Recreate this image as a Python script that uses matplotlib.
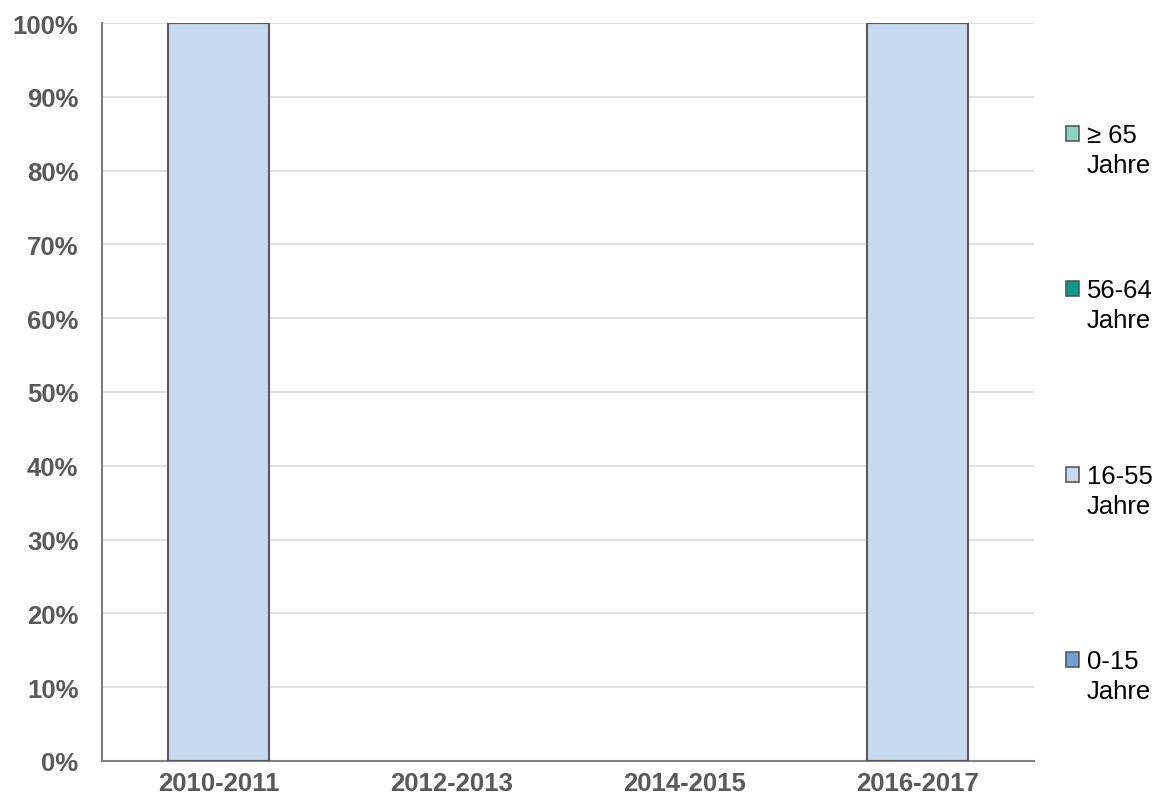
import numpy as np
import matplotlib.pyplot as plt
from matplotlib.patches import Patch, Rectangle
from matplotlib.legend_handler import HandlerPatch

plt.rcParams['font.family'] = ['Liberation Sans', 'DejaVu Sans']

# ---------- Data ----------
periods   = ["2010-2011", "2012-2013", "2014-2015", "2016-2017"]
age_0_15  = [0, 0, 0, 0]
age_16_55 = [100, 0, 0, 100]
age_56_64 = [0, 0, 0, 0]
age_65    = [0, 0, 0, 0]

series = [
    ("0-15\nJahre",  age_0_15,  "#6F9FD4"),
    ("16-55\nJahre", age_16_55, "#C6DAEF"),
    ("56-64\nJahre", age_56_64, "#009B8D"),
    ("\u2265 65\nJahre", age_65, "#8CD3C3"),
]

# legend entry centres (pixels from top), same order as series
legend_y = [677, 492, 306, 151]

FS = 18.5

# ---------- Plot ----------
fig = plt.figure(figsize=(11.63, 8.04), dpi=100)
ax = fig.add_axes([102 / 1163, 1 - 762 / 804, (1034 - 102) / 1163, (762 - 24) / 804])

x = np.arange(len(periods))
bottom = np.zeros(len(periods))
edge = "#595959"
handles = []
for label, vals, color in series:
    v = np.array(vals, dtype=float)
    shown = np.where(v > 0, v, np.nan)
    ax.bar(x, shown, bottom=bottom, width=0.435, color=color,
           edgecolor=edge, linewidth=1.5, zorder=3)
    bottom += v
    handles.append(Patch(facecolor=color, edgecolor=edge, linewidth=1.2, label=label))

ax.set_xlim(-0.5, len(periods) - 0.5)
ax.set_ylim(0, 100)
ax.set_yticks(np.arange(0, 101, 10))
ax.set_yticklabels([f"{t}%" for t in range(0, 101, 10)])
ax.set_xticks(x)
ax.set_xticklabels(periods)
ax.tick_params(length=0, labelsize=FS, colors="#595959")
for lab in ax.get_xticklabels() + ax.get_yticklabels():
    lab.set_fontweight("bold")
ax.tick_params(axis="x", pad=7)
ax.tick_params(axis="y", pad=17)

ax.grid(axis="y", color="#D9D9D9", linewidth=1.2, zorder=0)
ax.set_axisbelow(True)
for s in ["top", "right"]:
    ax.spines[s].set_visible(False)
for s in ["left", "bottom"]:
    ax.spines[s].set_color("#808080")
    ax.spines[s].set_linewidth(1.5)


# legend marker sits next to the first text line
def top_square(legend, orig_handle, xdescent, ydescent, width, height, fontsize):
    return Rectangle((-xdescent, -ydescent + 0.66 * fontsize), width, height)


for h, yp in zip(handles, legend_y):
    leg = fig.legend(handles=[h], loc="center left",
                     bbox_to_anchor=(1066 / 1163, 1 - yp / 804),
                     frameon=False, fontsize=FS,
                     handlelength=0.5, handleheight=0.5, handletextpad=0.3,
                     borderpad=0, borderaxespad=0,
                     handler_map={Patch: HandlerPatch(patch_func=top_square)})
    for t in leg.get_texts():
        t.set_linespacing(1.35)

fig.savefig("out.png", dpi=100)
